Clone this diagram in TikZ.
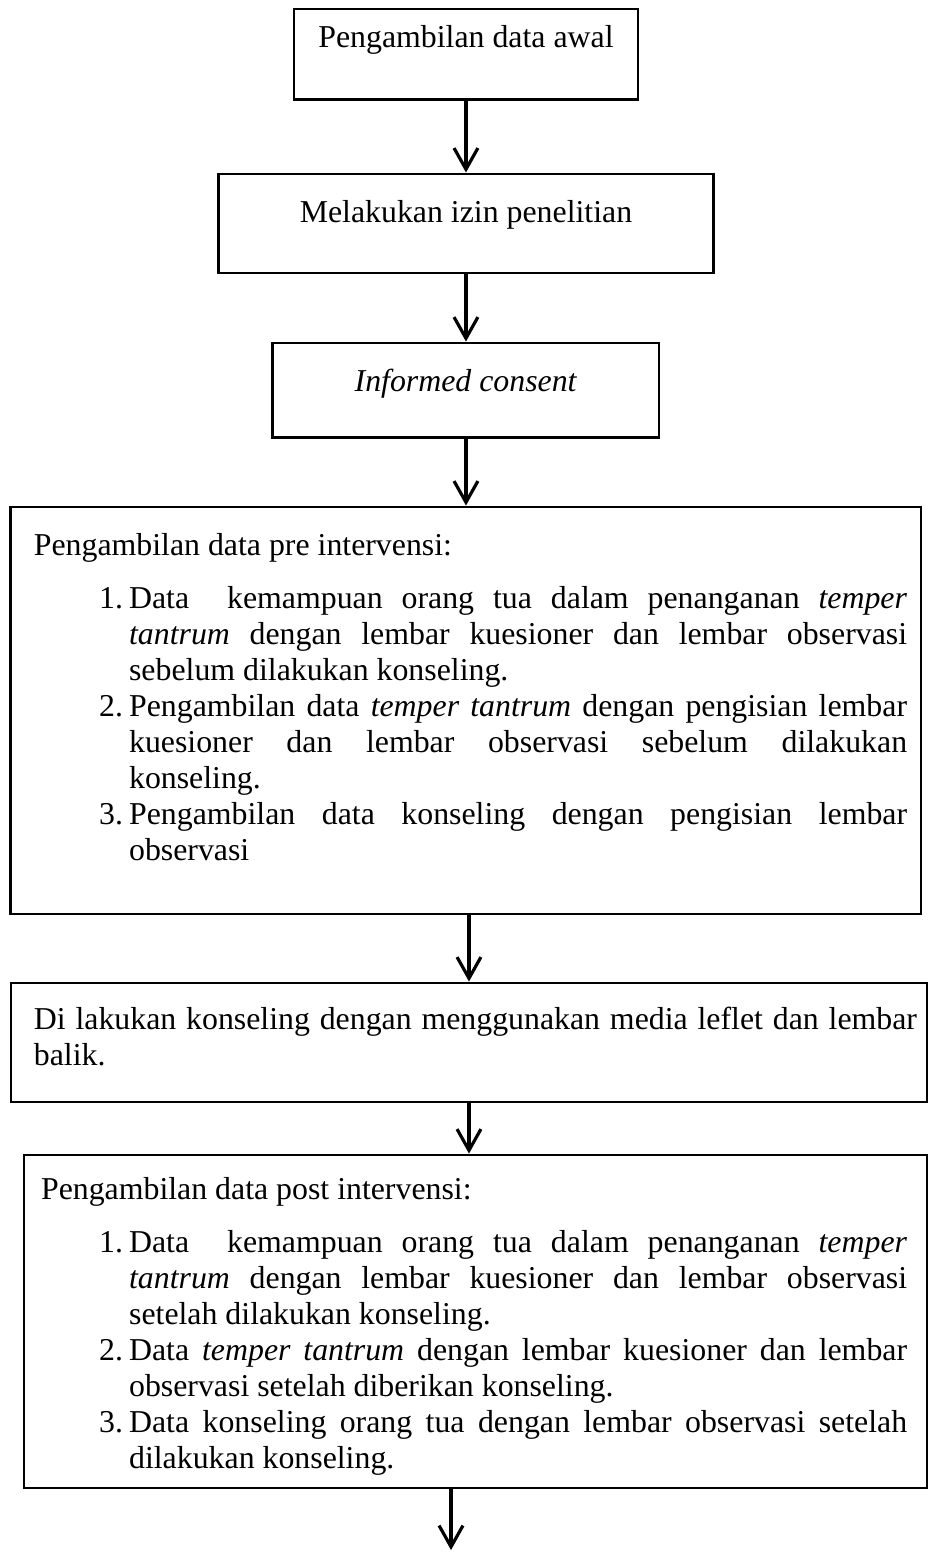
\documentclass[tikz,border=0pt]{standalone}
\usepackage{fontspec}
\setmainfont{Liberation Serif}
\usetikzlibrary{arrows.meta}
\newcommand{\nomor}[1]{\hspace*{-11.3pt}\makebox[11.3pt][l]{#1}}
\tikzset{
    BX/.style ={rectangle, draw, line width=1.1pt, inner sep=0pt},
    TC/.style ={anchor=base, inner sep=0pt, font=\fontsize{12}{13.6}\selectfont},
    TH/.style ={anchor=base west, inner sep=0pt, font=\fontsize{12}{13.6}\selectfont},
    TL/.style ={anchor=base west, inner sep=0pt, align=justify, font=\fontsize{12}{13.6}\selectfont},
    AR/.style ={-{Straight Barb[length=8pt,width=9pt]}, line width=1.2pt}}
\begin{document}
\begin{tikzpicture}
        \useasboundingbox (0,0) rectangle (12.323,-20.564);
        \node[BX, minimum width=4.558cm, minimum height=1.193cm] (B1) at(6.174,-0.716){};
        \node[BX, minimum width=6.559cm, minimum height=1.312cm] (B2) at(6.174,-2.961){};
        \node[BX, minimum width=5.115cm, minimum height=1.246cm] (B3) at(6.174,-5.168){};
        \node[BX, minimum width=12.058cm, minimum height=5.393cm] (B4) at(6.174,-9.414){};
        \node[BX, minimum width=12.137cm, minimum height=1.577cm] (B5) at(6.214,-13.813){};
        \node[BX, minimum width=11.965cm, minimum height=4.412cm] (B6) at(6.300,-17.510){};
        \coordinate (E) at(5.976,-20.538);
        % teks
        \node[TC] (T1) at([yshift=-15pt]B1.north){Pengambilan data awal};
        \node[TC] (T2) at([yshift=-18.8pt]B2.north){Melakukan izin penelitian};
        \node[TC] (T3) at([yshift=-18.8pt]B3.north){\textit{Informed consent}};
        \node[TH] (T4) at([xshift=9pt,yshift=-18.8pt]B4.north west){Pengambilan data pre intervensi:};
        \node[TL, text width=293.3pt] (L4) at([xshift=44.9pt,yshift=-38.8pt]B4.north west){%
            \nomor{1.}Data~ kemampuan orang tua dalam penanganan \textit{temper}\linebreak
            \textit{tantrum} dengan lembar kuesioner dan lembar observasi\linebreak
            sebelum dilakukan konseling.\par
            \nomor{2.}Pengambilan data \textit{temper tantrum} dengan pengisian lembar\linebreak
            kuesioner dan lembar observasi sebelum dilakukan\linebreak
            konseling.\par
            \nomor{3.}Pengambilan data konseling dengan pengisian lembar\linebreak
            observasi};
        \node[TL, text width=332.9pt] (T5) at([xshift=9pt,yshift=-18pt]B5.north west){%
            Di lakukan konseling dengan menggunakan media leflet dan lembar\linebreak
            balik.};
        \node[TH] (T6) at([xshift=6.8pt,yshift=-17.3pt]B6.north west){Pengambilan data post intervensi:};
        \node[TL, text width=293.3pt] (L6) at([xshift=40pt,yshift=-37.3pt]B6.north west){%
            \nomor{1.}Data~ kemampuan orang tua dalam penanganan \textit{temper}\linebreak
            \textit{tantrum} dengan lembar kuesioner dan lembar observasi\linebreak
            setelah dilakukan konseling.\par
            \nomor{2.}Data \textit{temper tantrum} dengan lembar kuesioner dan lembar\linebreak
            observasi setelah diberikan konseling.\par
            \nomor{3.}Data konseling orang tua dengan lembar observasi setelah\linebreak
            dilakukan konseling.};
        % panah
        \draw[AR] (B1) --(B2);
        \draw[AR] (B2) --(B3);
        \draw[AR] (B3) --(B4);
        \draw[AR] (B4.south -| B5.north) --(B5.north);
        \draw[AR] (B5.south) --(B5.south |- B6.north);
        \draw[AR] (B6.south -| E) --(E);
    \end{tikzpicture}
\end{document}
